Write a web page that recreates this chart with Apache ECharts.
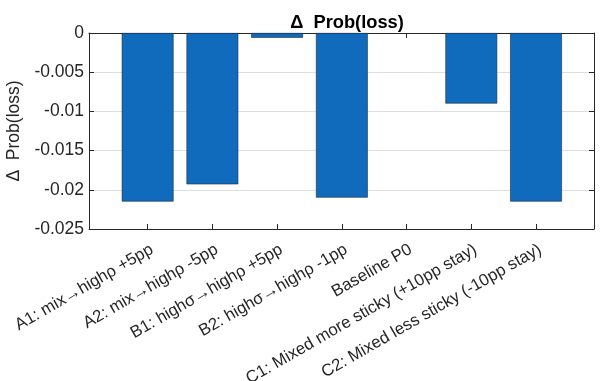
<!DOCTYPE html>
<html><head><meta charset="utf-8">
<script src="https://cdn.jsdelivr.net/npm/echarts@6/dist/echarts.min.js"></script>
<style>html,body{margin:0;padding:0;background:#fff}#c{width:600px;height:381px}</style>
</head><body><div id="c"></div>
<script>
const categories = ["A1: mix\u2192high\u03c1 +5pp", "A2: mix\u2192high\u03c1 -5pp", "B1: high\u03c3\u2192high\u03c1 +5pp", "B2: high\u03c3\u2192high\u03c1 -1pp", "Baseline P0", "C1: Mixed more sticky (+10pp stay)", "C2: Mixed less sticky (-10pp stay)"];
const deltaProbLoss = [-0.0215, -0.0193, -0.0006, -0.0210, 0, -0.0090, -0.0215];
const yTicks = [-0.025, -0.02, -0.015, -0.01, -0.005, 0];
const titleText = "\u0394  Prob(loss)";

const FONT = "Liberation Sans";
const TXT = "#262626";
const yMin = yTicks[0], yMax = yTicks[yTicks.length - 1], yStep = yTicks[1] - yTicks[0];
const fmt = v => (Math.abs(v) < 1e-12 ? "0" : String(+v.toFixed(3)));

const chart = echarts.init(document.getElementById('c'), null, {renderer: 'canvas'});
const gTop = 33, gBottom = 152;
chart.setOption({
  animation: false,
  backgroundColor: '#fff',
  title: {text: titleText, left: 342, textAlign: 'center', top: 9,
    textStyle: {fontFamily: FONT, fontSize: 18.3, fontWeight: 'bold', color: '#000'}},
  grid: [
    {left: 89, right: 6, top: gTop, bottom: gBottom, containLabel: false, outerBoundsMode: 'none'},
    {left: 115.3, right: 31.6, top: gTop, bottom: gBottom, containLabel: false, outerBoundsMode: 'none'}
  ],
  xAxis: [
    {gridIndex: 0, type: 'value', min: 0, max: 1, position: 'bottom',
      axisLine: {show: true, onZero: false, lineStyle: {color: TXT, width: 1}},
      axisTick: {show: false}, axisLabel: {show: false}, splitLine: {show: false}},
    {gridIndex: 0, type: 'value', min: 0, max: 1, position: 'top',
      axisLine: {show: true, onZero: false, lineStyle: {color: TXT, width: 1}},
      axisTick: {show: false}, axisLabel: {show: false}, splitLine: {show: false}},
    {gridIndex: 1, type: 'category', data: categories, position: 'bottom',
      axisLine: {show: false, onZero: false},
      axisTick: {show: true, alignWithLabel: true, inside: true, length: 5, lineStyle: {color: TXT}},
      axisLabel: {rotate: 30, interval: 0, margin: 12, verticalAlign: 'top', fontFamily: FONT, fontSize: 16.8, color: TXT}},
    {gridIndex: 1, type: 'category', data: categories, position: 'top',
      axisLine: {show: false, onZero: false},
      axisTick: {show: true, alignWithLabel: true, inside: true, length: 5, lineStyle: {color: TXT}},
      axisLabel: {show: false}}
  ],
  yAxis: [
    {gridIndex: 0, type: 'value', min: yMin, max: yMax, interval: yStep, position: 'left',
      name: titleText, nameLocation: 'middle', nameGap: 64,
      nameTextStyle: {fontFamily: FONT, fontSize: 17.5, color: TXT},
      axisLine: {show: true, onZero: false, lineStyle: {color: TXT}},
      axisTick: {show: true, inside: true, length: 5, lineStyle: {color: TXT}},
      axisLabel: {fontFamily: FONT, fontSize: 17.5, color: TXT, margin: 5, formatter: fmt},
      splitLine: {show: true, lineStyle: {color: '#dfdfdf', width: 1}}},
    {gridIndex: 0, type: 'value', min: yMin, max: yMax, interval: yStep, position: 'right',
      axisLine: {show: true, onZero: false, lineStyle: {color: TXT}},
      axisTick: {show: true, inside: true, length: 5, lineStyle: {color: TXT}},
      axisLabel: {show: false}, splitLine: {show: false}},
    {gridIndex: 1, type: 'value', min: yMin, max: yMax, interval: yStep, show: false}
  ],
  series: [{
    type: 'bar', xAxisIndex: 2, yAxisIndex: 2,
    data: deltaProbLoss.map(v => (v === 0 ? {value: v, itemStyle: {borderWidth: 0}} : v)),
    barWidth: '80%',
    itemStyle: {color: '#106bbd', borderColor: '#1b2a3a', borderWidth: 0.6}
  }]
});
</script></body></html>
